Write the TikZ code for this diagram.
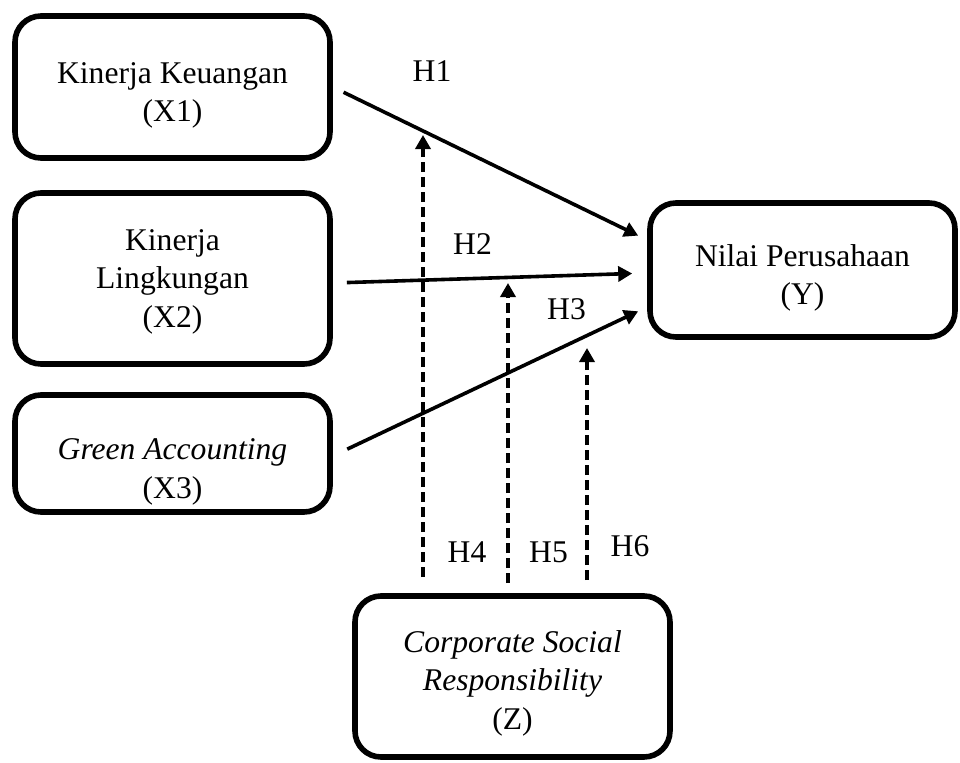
\documentclass[tikz,border=0pt]{standalone}
\usepackage{fontspec}
\setmainfont{Liberation Serif}
\usetikzlibrary{arrows.meta}
\tikzset{
	varbox/.style={draw, line width=2.8pt, rounded corners=13pt, align=center, inner sep=2pt},
	lowtext/.style={text height=#1},
	hyparrow/.style={line width=1.8pt, -{Triangle[length=7pt,width=7.5pt]}},
	modarrow/.style={line width=2pt, dash pattern=on 5pt off 2.5pt, -{Triangle[length=7pt,width=7.5pt]}},
	hlabel/.style={inner sep=0pt}
}

\begin{document}
\begin{tikzpicture}[x=0.5pt, y=-0.5pt, font=\fontsize{15.8}{19.2}\selectfont]
		%%%%% START %%%%%
		
		\useasboundingbox (0, 0) rectangle (960, 762);
		
		\node[varbox, lowtext=38pt, minimum width=157.5pt, minimum height=71pt] (X1) at (172.5, 87) {Kinerja Keuangan\\(X1)};
		\node[varbox, lowtext=52.2pt, minimum width=157.5pt, minimum height=85.5pt] (X2) at (172.5, 278.5) {Kinerja\\Lingkungan\\(X2)};
		\node[varbox, lowtext=48pt, minimum width=157.5pt, minimum height=58.5pt] (X3) at (172.5, 453.5) {\textit{Green Accounting}\\(X3)};
		
		\node[varbox, lowtext=38pt, minimum width=152.5pt, minimum height=67pt] (Y) at (802.5, 270) {Nilai Perusahaan\\(Y)};
		\node[varbox, lowtext=56.2pt, minimum width=157.5pt, minimum height=80.5pt] (Z) at (512.5, 676.5) {\textit{Corporate Social}\\\textit{Responsibility}\\(Z)};
		
		\draw[hyparrow, shorten <=6pt, shorten >=5pt] (X1.east) -- ([yshift=15pt]Y.west);
		\draw[hyparrow, shorten <=7pt, shorten >=7.5pt] ([yshift=-2.25pt]X2.east) -- ([yshift=-1.5pt]Y.west);
		\draw[hyparrow, shorten <=8pt, shorten >=5pt] ([yshift=-1.25pt]X3.east) -- ([yshift=-18.5pt]Y.west);
		
		\coordinate (t4) at (423, 135);
		\coordinate (t5) at (508, 283);
		\coordinate (t6) at (587, 348);
		\draw[modarrow, shorten <=8pt] ([xshift=-44.75pt]Z.north) -- (t4);
		\draw[modarrow, shorten <=5pt] ([xshift=-2.25pt]Z.north) -- (t5);
		\draw[modarrow, shorten <=6.5pt] ([xshift=37.25pt]Z.north) -- (t6);
		
		\node[hlabel] (h1) at (432, 71.5) {H1};
		\node[hlabel] (h2) at (472.5, 244.5) {H2};
		\node[hlabel] (h3) at (566.5, 309.5) {H3};
		\node[hlabel] (h4) at (467, 552.5) {H4};
		\node[hlabel] (h5) at (548.5, 552.5) {H5};
		\node[hlabel] (h6) at (630, 546.5) {H6};
		
		%%%%% END %%%%%
	\end{tikzpicture}
\end{document}
